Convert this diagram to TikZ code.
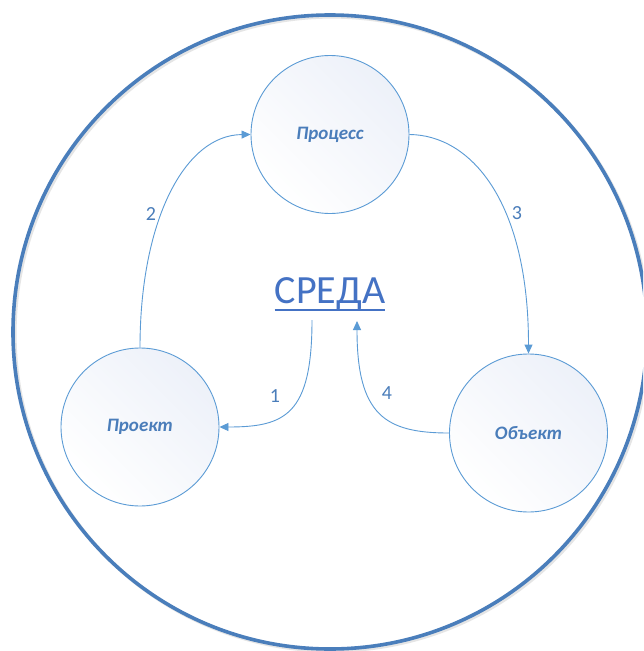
\documentclass[tikz,border=0pt]{standalone}
\usepackage{fontspec}
\setmainfont{Carlito}
\usetikzlibrary{arrows.meta}
\definecolor{ringblue}{HTML}{4A7EBB}
\definecolor{lineblue}{HTML}{5B9BD5}
\definecolor{textblue}{HTML}{4472C4}
\definecolor{labelblue}{HTML}{4A7DBA}
\definecolor{fillblue}{HTML}{EDF1F9}
\tikzset{
  x=1pt, y=-1pt,
  smallc/.style={circle, draw=lineblue, line width=0.9pt, minimum size=158pt, inner sep=0pt,
    shading=axis, left color=fillblue, right color=white, shading angle=-45,
    font=\fontsize{19}{22}\selectfont\bfseries\itshape, text=labelblue},
  conn/.style={draw=lineblue, line width=0.9pt, -{Triangle[length=9pt,width=8pt]}},
  numlbl/.style={font=\fontsize{20}{24}\selectfont, text=labelblue, inner sep=0pt},
}
\begin{document}
\begin{tikzpicture}
\useasboundingbox (0,0) rectangle (643,651);
\clip (0,0) rectangle (643,651);
\fill[white] (0,0) rectangle (643,651);
% outer ring with soft shadow
\draw[black!40, opacity=0.25, line width=3.6pt] (331.8,333.8) circle[radius=317];
\draw[ringblue, line width=3.6pt] (330,332) circle[radius=317];
% nodes
\node[smallc] (proc) at (330,134.5) {Процесс};
\node[smallc] (proekt) at (140,427) {Проект};
\node[smallc] (obj) at (528.5,433) {Объект};
\node[font=\fontsize{40}{44}\selectfont, text=textblue, inner sep=0pt] (sreda) at (330,294) {СРЕДА};
\draw[textblue, line width=2pt] ([yshift=-6pt]sreda.base west) -- ([yshift=-6pt]sreda.base east);
\coordinate (s1) at (312,320);
\coordinate (s4) at (357,321);
% connectors
\draw[conn] (proekt.north) .. controls (140,220) and (185,135) .. (proc.west);
\draw[conn] (proc.east) .. controls (470,135) and (528.5,200) .. (obj.north);
\draw[conn] (s1) .. controls (312,415) and (285,427) .. (proekt.east);
\draw[conn] (obj.west) .. controls (385,433) and (357,415) .. (s4);
% labels
\node[numlbl] (n2) at (151,214) {2};
\node[numlbl] (n3) at (517,213) {3};
\node[numlbl] (n1) at (275,396) {1};
\node[numlbl] (n4) at (387,393) {4};
\end{tikzpicture}
\end{document}
